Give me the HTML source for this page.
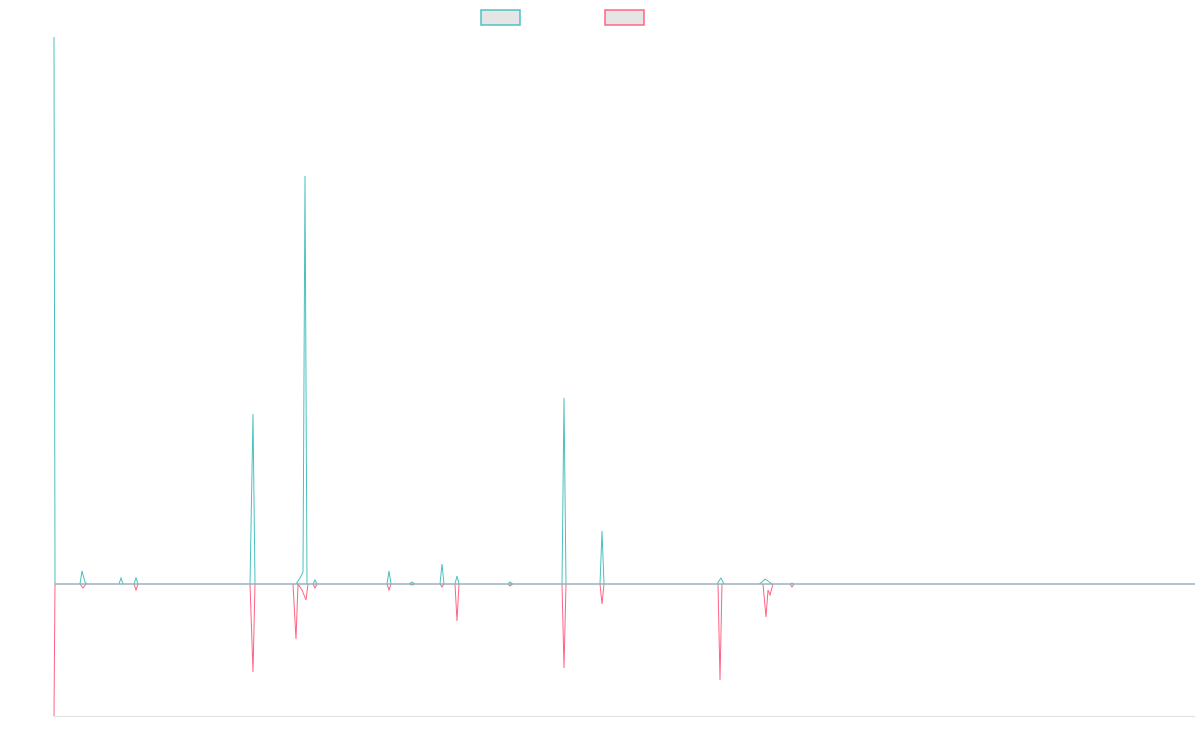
<!DOCTYPE html>
<html><head><meta charset="utf-8"><style>html,body{margin:0;padding:0;background:#fff;width:1200px;height:750px;overflow:hidden}</style></head>
<body>
<svg width="1200" height="750" viewBox="0 0 1200 750" xmlns="http://www.w3.org/2000/svg">
<rect x="481" y="10" width="39" height="15" fill="#e5e5e5" stroke="#4bc0c0" stroke-width="1.5"/>
<rect x="605" y="10" width="39" height="15" fill="#e5e5e5" stroke="#ff6384" stroke-width="1.5"/>
<line x1="54" y1="716.5" x2="1195" y2="716.5" stroke="#e0e0e0" stroke-width="1"/>
<polyline fill="none" stroke="#ff6384" stroke-width="1" points="
54,716 55,584 80,584 83,588 86,584 134,584 136,590 138,584
250,584 253,672 255,584 293,584 296,639 298,584 302,590 306,600 308,584 313,584 315,588 317,584
387,584 389,590 391,584 409,584 412,585 415,584 440,584 442,587 444,584 455,584 457,621 459,584
508,584 510,586 513,584 562,584 564,668 566,584 600,584 602,604 604,584
718,584 720,680 722,584 763,584 766,617 768,590 770,595 773,584 790,584 792,587 794,584"/>
<polyline fill="none" stroke="#4bc0c0" stroke-width="1" points="
54,37 55,584 80,584 82,571 85,582 87,584 119,584 121,578 123,584 134,584 136,578 138,584
250,584 253,414 255,584 296,584 300,578 303,572 305,176 307,584 313,584 315,580 317,584
387,584 389,571 391,584 409,584 412,582 415,584 440,584 442,564 444,584 455,584 457,576 459,584
508,584 510,582 513,584 562,584 564,398 566,584 600,584 602,531 604,584
717,584 721,578 724,584 759,584 762,582 765,579 768,581 772,584 790,584 792,583 794,584 1195,584"/>
<line x1="56" y1="584" x2="1195" y2="584" stroke="#9ab0b8" stroke-width="1.5"/>
</svg>
</body></html>
